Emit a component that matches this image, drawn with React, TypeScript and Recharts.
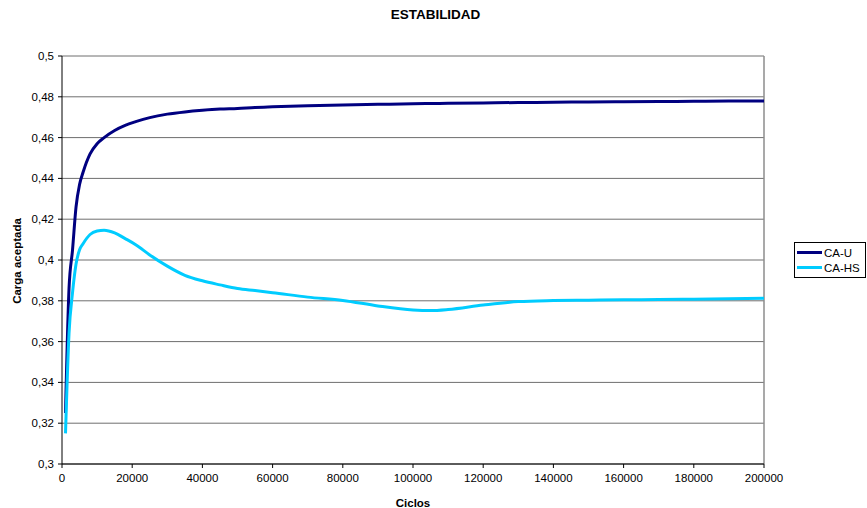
import React from 'react';
import { LineChart, Line, XAxis, YAxis, CartesianGrid, ReferenceLine } from 'recharts';

// Ciclos (x axis)
const cycles = [
  1000, 2000, 3000, 4000, 5000, 6000, 8000, 10000, 12000, 15000, 18000, 21000, 25000, 30000,
  35000, 40000, 45000, 50000, 55000, 60000, 70000, 80000, 90000, 100000, 105000, 110000,
  120000, 130000, 140000, 150000, 160000, 170000, 180000, 190000, 200000,
];

// Carga aceptada, CA-U
const caU = [
  0.325, 0.386, 0.405, 0.426, 0.437, 0.443, 0.452, 0.457, 0.46, 0.4635, 0.466, 0.4678, 0.4698,
  0.4715, 0.4726, 0.4734, 0.474, 0.4743, 0.4748, 0.4751, 0.4756, 0.476, 0.4763, 0.4766, 0.4767,
  0.4768, 0.477, 0.4772, 0.4773, 0.4775, 0.4776, 0.4777, 0.4778, 0.4779, 0.4779,
];

// Carga aceptada, CA-HS
const caHS = [
  0.315, 0.364, 0.384, 0.398, 0.405, 0.408, 0.4125, 0.4142, 0.4146, 0.4133, 0.4105, 0.4075,
  0.4025, 0.397, 0.3925, 0.3898, 0.3878, 0.386, 0.385, 0.384, 0.3818, 0.3802, 0.3775, 0.3755,
  0.3752, 0.3757, 0.3779, 0.3796, 0.3801, 0.3803, 0.3805, 0.3806, 0.3808, 0.381, 0.3812,
];

const xTicks = [0, 20000, 40000, 60000, 80000, 100000, 120000, 140000, 160000, 180000, 200000];
const yTicks = [0.3, 0.32, 0.34, 0.36, 0.38, 0.4, 0.42, 0.44, 0.46, 0.48, 0.5];

const seriesNames = ['CA-U', 'CA-HS'];
const seriesColors = ['#000080', '#00CCFF'];

const data = cycles.map((c, i) => ({ ciclos: c, caU: caU[i], caHS: caHS[i] }));

const FONT = '"Liberation Sans", Arial, sans-serif';

const fmtY = (v: number) => String(Number(v.toFixed(2))).replace('.', ',');

const LegendBox = () => (
  <div
    style={{
      position: 'absolute',
      left: 794,
      top: 242,
      border: '1px solid #000',
      width: 72,
      height: 36,
      background: '#fff',
      boxSizing: 'border-box',
      paddingTop: 2,
      fontFamily: FONT,
      fontSize: 11.5,
      color: '#000',
    }}
  >
    {seriesNames.map((n, i) => (
      <div key={n} style={{ display: 'flex', alignItems: 'center', height: 15 }}>
        <div style={{ width: 25, height: 3, background: seriesColors[i], marginLeft: 2, marginRight: 2 }} />
        <span>{n}</span>
      </div>
    ))}
  </div>
);

export default function App() {
  return (
    <div style={{ position: 'absolute', left: 0, top: 0, width: 867, height: 508, background: '#fff', fontFamily: FONT }}>
      <LineChart
        width={867}
        height={508}
        data={data}
        margin={{ top: 56, right: 103, left: 12, bottom: 24 }}
        style={{ position: 'absolute', left: 0, top: 0 }}
      >
        <CartesianGrid horizontal vertical={false} stroke="#6e6e6e" strokeWidth={1} />
        <ReferenceLine x={200000} stroke="#8c8c8c" strokeWidth={1.5} />
        <XAxis
          dataKey="ciclos"
          type="number"
          domain={[0, 200000]}
          ticks={xTicks}
          interval={0}
          height={20}
          tickSize={4}
          tickMargin={6}
          stroke="#000"
          tick={{ fill: '#000', fontSize: 11.5, fontFamily: FONT }}
          allowDataOverflow
        />
        <YAxis
          type="number"
          domain={[0.3, 0.5]}
          ticks={yTicks}
          interval={0}
          width={50}
          tickSize={4}
          tickMargin={4}
          tickFormatter={fmtY}
          stroke="#000"
          tick={{ fill: '#000', fontSize: 11.5, fontFamily: FONT }}
          allowDataOverflow
        />
        <Line
          type="monotone"
          dataKey="caU"
          name={seriesNames[0]}
          stroke={seriesColors[0]}
          strokeWidth={3}
          dot={false}
          isAnimationActive={false}
        />
        <Line
          type="monotone"
          dataKey="caHS"
          name={seriesNames[1]}
          stroke={seriesColors[1]}
          strokeWidth={3}
          dot={false}
          isAnimationActive={false}
        />
      </LineChart>
      <div
        style={{
          position: 'absolute',
          left: 0,
          width: 867,
          top: 7,
          textAlign: 'center',
          fontWeight: 'bold',
          fontSize: 13.5,
          paddingLeft: 2,
        }}
      >
        ESTABILIDAD
      </div>
      <div
        style={{
          position: 'absolute',
          left: 17,
          top: 261,
          transform: 'translate(-50%, -50%) rotate(-90deg)',
          whiteSpace: 'nowrap',
          fontWeight: 'bold',
          fontSize: 11.5,
        }}
      >
        Carga aceptada
      </div>
      <div
        style={{
          position: 'absolute',
          left: 413,
          top: 503,
          transform: 'translate(-50%, -50%)',
          fontWeight: 'bold',
          fontSize: 11.5,
        }}
      >
        Ciclos
      </div>
      <LegendBox />
    </div>
  );
}
